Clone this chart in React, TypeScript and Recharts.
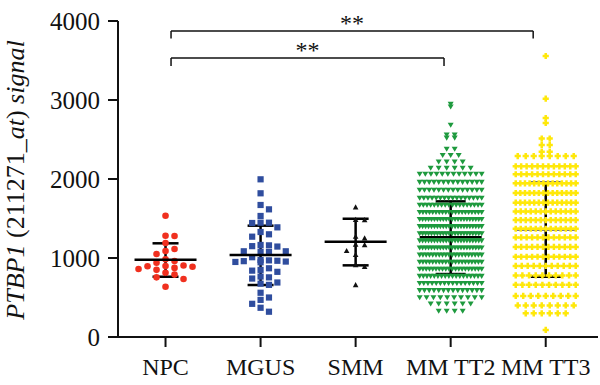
import React from 'react';
import { ScatterChart, Scatter, XAxis, YAxis, ErrorBar, ReferenceLine } from 'recharts';

const GROUPS = ['NPC', 'MGUS', 'SMM', 'MM TT2', 'MM TT3'];
const Y_TICKS = [0, 1000, 2000, 3000, 4000];

// individual values for the small groups
const NPC = [1535, 1282, 1278, 1190, 1114, 1088, 1050, 985, 962, 940, 905, 899, 895, 890, 875, 861, 850, 814, 790, 755, 734, 637];
const MGUS = [1996, 1819, 1671, 1616, 1532, 1447, 1447, 1443, 1388, 1329, 1300, 1270, 1165, 1160, 1150, 1145, 1085, 1085, 1080, 1075,
  1010, 975, 970, 965, 960, 955, 950, 945, 870, 850, 840, 825, 765, 755, 740, 690, 675, 660, 560, 500, 470, 420, 370, 320];
const SMM = [1643, 1485, 1480, 1270, 1250, 1170, 1165, 1090, 1040, 910, 890, 658];

// big groups read as rows: [value, how many points in that row]
const TT2_ROWS: [number, number][] = [
  [2949, 1], [2915, 1], [2684, 1], [2560, 2], [2520, 2], [2380, 2], [2300, 3], [2219, 4], [2139, 6],
  [2063, 12], [1960, 14], [1860, 14], [1760, 16], [1670, 18], [1580, 20], [1490, 22], [1400, 22],
  [1310, 22], [1220, 22], [1130, 22], [1040, 20], [950, 20], [860, 20], [770, 18], [680, 16],
  [590, 14], [500, 10], [420, 6], [330, 4],
];
const TT3_ROWS: [number, number][] = [
  [3557, 1], [3017, 1], [2772, 1], [2709, 1], [2512, 2], [2430, 2], [2345, 2], [2290, 8], [2160, 12],
  [2060, 12], [1945, 14], [1823, 14], [1700, 14], [1590, 13], [1480, 13], [1370, 13], [1260, 12],
  [1140, 12], [1016, 12], [900, 11], [780, 10], [660, 10], [520, 9], [400, 8], [300, 6], [89, 1],
];

// mean and mean±SD as drawn
const MEANS = [978, 1038, 1206, 1262, 1363];
const UPPER = [1186, 1409, 1497, 1717, 1953];
const LOWER = [763, 658, 907, 797, 763];

// significance brackets: [x start, x end, bar value, drop value]
const BRACKETS: [number, number, number, number][] = [
  [1.058, 4.868, 3873, 3778],
  [1.058, 3.93, 3532, 3430],
];

const RED = '#f0301f';
const BLUE = '#2f4d9e';
const GREEN = '#1e9a3e';
const YELLOW = '#ffe80a';
const FONT = '"Liberation Serif", "Times New Roman", serif';

const W = 600;
const H = 385;
const M = { top: 21, right: 2, bottom: 0, left: 0 };
const Y_AXIS_W = 118;
const X_AXIS_H = 48;
const X_MAX = 5.55;
const PX_X = (W - M.left - M.right - Y_AXIS_W) / (X_MAX - 0.5);
const PX_Y = (H - M.top - M.bottom - X_AXIS_H) / 4000;

// simple beeswarm: x offsets (px) so markers of diameter d do not overlap
function swarm(vals: number[], d: number, maxHalf: number): number[] {
  const order = vals.map((_, i) => i).sort((a, b) => vals[b] - vals[a]);
  const placed: { x: number; y: number }[] = [];
  const out = new Array(vals.length).fill(0);
  for (const i of order) {
    const y = vals[i] * PX_Y;
    let best = 0;
    for (let k = 0; k < 60; k++) {
      const cand = k === 0 ? 0 : (k % 2 ? 1 : -1) * Math.ceil(k / 2) * d * 0.5;
      if (Math.abs(cand) > maxHalf) break;
      if (placed.every(p => Math.abs(p.x - cand) >= d || Math.abs(p.y - y) >= 6.5)) {
        best = cand;
        break;
      }
    }
    placed.push({ x: best, y });
    out[i] = best;
  }
  return out;
}

function smallGroup(vals: number[], cat: number, d: number) {
  const offs = swarm(vals, d, 30);
  return vals.map((v, i) => ({ x: cat + offs[i] / PX_X, y: v }));
}

function rowGroup(rows: [number, number][], cat: number, d: number, maxHalf: number) {
  const pts: { x: number; y: number }[] = [];
  rows.forEach(([v, n]) => {
    const gap = n > 1 ? Math.min(d, (2 * maxHalf) / (n - 1)) : 0;
    for (let i = 0; i < n; i++) {
      const off = (i - (n - 1) / 2) * gap;
      pts.push({ x: cat + off / PX_X, y: v });
    }
  });
  return pts;
}

const npcData = smallGroup(NPC, 1, 9);
const mgusData = smallGroup(MGUS, 2, 8.4);
const smmData = smallGroup(SMM, 3, 9);
const tt2Data = rowGroup(TT2_ROWS, 4, 8, 31);
const tt3Data = rowGroup(TT3_ROWS, 5, 8, 30);

const stats = MEANS.map((m, i) => ({ x: i + 1, y: m, err: [m - LOWER[i], UPPER[i] - m] }));
const statsFront = stats.slice(0, 3);
const statsBack = stats.slice(3);

const Circle = (p: any) => <circle cx={p.cx} cy={p.cy} r={3.3} fill={RED} />;
const Square = (p: any) => <rect x={p.cx - 3.1} y={p.cy - 3.1} width={6.2} height={6.2} fill={BLUE} />;
const TriUp = (p: any) => (
  <path d={`M${p.cx},${p.cy - 3}L${p.cx + 2.8},${p.cy + 2.2}L${p.cx - 2.8},${p.cy + 2.2}Z`} fill="#111" />
);
const TriDown = (p: any) => (
  <path d={`M${p.cx - 3},${p.cy - 2.3}L${p.cx + 3},${p.cy - 2.3}L${p.cx},${p.cy + 2.8}Z`} fill={GREEN} />
);
const Plus = (p: any) => {
  const a = 3.1;
  const b = 1.25;
  const { cx, cy } = p;
  return (
    <path
      d={`M${cx - b},${cy - a}H${cx + b}V${cy - b}H${cx + a}V${cy + b}H${cx + b}V${cy + a}H${cx - b}V${cy + b}H${cx - a}V${cy - b}H${cx - b}Z`}
      fill={YELLOW}
    />
  );
};
const MeanLine = (p: any) => (
  <line x1={p.cx - 31} x2={p.cx + 31} y1={p.cy} y2={p.cy} stroke="#000" strokeWidth={2.5} />
);

const YLabel = () => (
  <text transform="rotate(-90)" x={-180} y={24} textAnchor="middle" fontFamily={FONT} fontSize={26} fill="#111">
    <tspan fontStyle="italic">PTBP1</tspan>
    <tspan> (211271_</tspan>
    <tspan fontStyle="italic">at</tspan>
    <tspan>) </tspan>
    <tspan fontStyle="italic">signal</tspan>
  </text>
);

export default function App() {
  return (
    <div style={{ position: 'absolute', left: 0, top: 0, width: W, height: H, background: '#fff' }}>
      <ScatterChart width={W} height={H} margin={M}>
        <XAxis
          type="number"
          dataKey="x"
          domain={[0.5, X_MAX]}
          ticks={[1, 2, 3, 4, 5]}
          interval={0}
          tickFormatter={(v: number) => GROUPS[v - 1]}
          height={X_AXIS_H}
          allowDataOverflow
          axisLine={{ stroke: '#111', strokeWidth: 2 }}
          tickLine={{ stroke: '#111', strokeWidth: 2 }}
          tickSize={10}
          tickMargin={11}
          tick={{ fill: '#111', fontSize: 24, fontFamily: FONT }}
        />
        <YAxis
          type="number"
          dataKey="y"
          domain={[0, 4000]}
          ticks={Y_TICKS}
          interval={0}
          width={Y_AXIS_W}
          allowDataOverflow
          axisLine={{ stroke: '#111', strokeWidth: 2 }}
          tickLine={{ stroke: '#111', strokeWidth: 2 }}
          tickSize={10}
          tickMargin={8}
          tick={{ fill: '#111', fontSize: 25, fontFamily: FONT }}
          label={<YLabel />}
        />
        {BRACKETS.map(([x1, x2, yb], i) => (
          <ReferenceLine
            key={`b${i}`}
            segment={[{ x: x1, y: yb }, { x: x2, y: yb }]}
            stroke="#111"
            strokeWidth={1.5}
            ifOverflow="visible"
            label={{ value: '**', position: 'top', fontSize: 24, fontFamily: FONT, fill: '#111', offset: 0 }}
          />
        ))}
        {BRACKETS.map(([x1, , yb, yd], i) => (
          <ReferenceLine key={`l${i}`} segment={[{ x: x1, y: yb }, { x: x1, y: yd }]} stroke="#111" strokeWidth={1.5} ifOverflow="visible" />
        ))}
        {BRACKETS.map(([, x2, yb, yd], i) => (
          <ReferenceLine key={`r${i}`} segment={[{ x: x2, y: yb }, { x: x2, y: yd }]} stroke="#111" strokeWidth={1.5} ifOverflow="visible" />
        ))}
        <Scatter data={statsBack} shape={MeanLine} isAnimationActive={false}>
          <ErrorBar dataKey="err" direction="y" width={15} stroke="#000" strokeWidth={2.5} />
        </Scatter>
        <Scatter data={npcData} shape={Circle} isAnimationActive={false} />
        <Scatter data={mgusData} shape={Square} isAnimationActive={false} />
        <Scatter data={smmData} shape={TriUp} isAnimationActive={false} />
        <Scatter data={tt2Data} shape={TriDown} isAnimationActive={false} />
        <Scatter data={tt3Data} shape={Plus} isAnimationActive={false} />
        <Scatter data={statsFront} shape={MeanLine} isAnimationActive={false}>
          <ErrorBar dataKey="err" direction="y" width={13} stroke="#000" strokeWidth={2.5} />
        </Scatter>
      </ScatterChart>
    </div>
  );
}
